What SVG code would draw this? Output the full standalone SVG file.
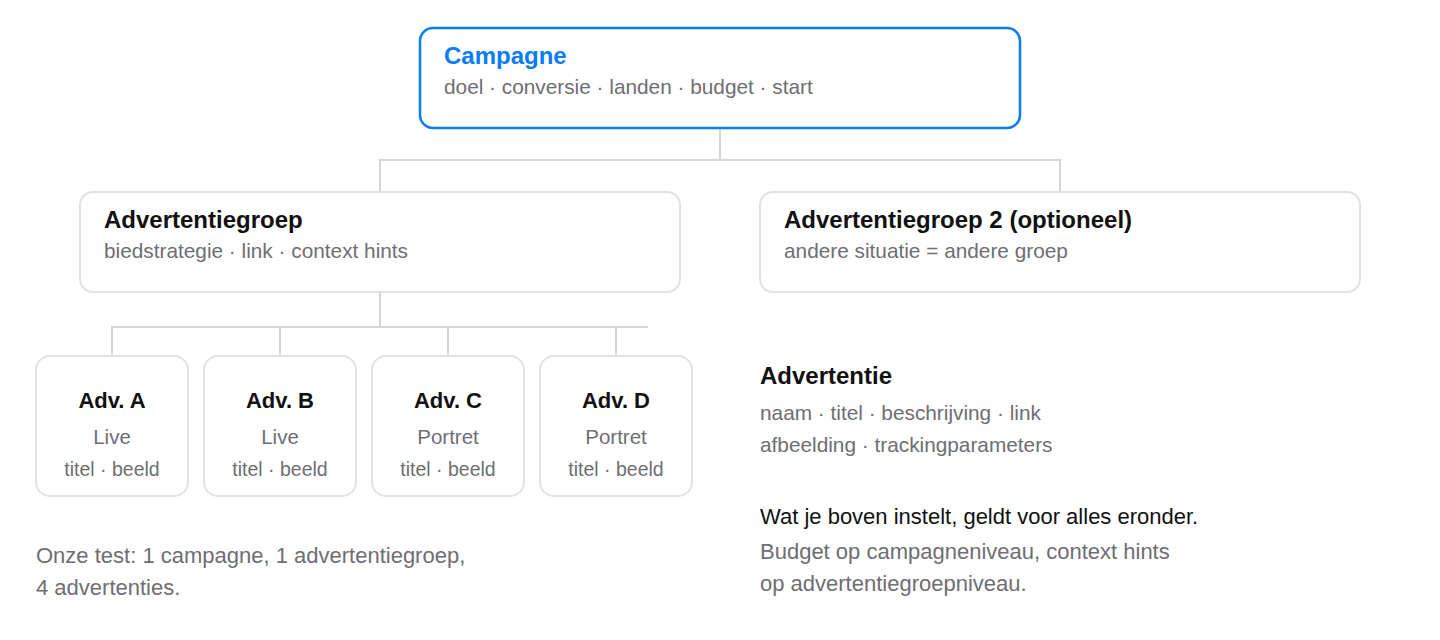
<svg xmlns="http://www.w3.org/2000/svg" width="1440" height="640" viewBox="0 0 1440 640">
<style>
text{font-family:"Liberation Sans",Arial,Helvetica,sans-serif}
.box{fill:#fff;stroke:#e2e2e5;stroke-width:2}
.main{fill:#fff;stroke:#0a7cf5;stroke-width:2.5}
.conn{fill:none;stroke:#d6d6da;stroke-width:2}
.t{font-size:24px;font-weight:bold;fill:#111}
.tb{font-size:24px;font-weight:bold;fill:#0a7cf5}
.s{font-size:20.8px;fill:#6e6e73}
.n{font-size:22px;fill:#6e6e73}
.at{font-size:22px;font-weight:bold;fill:#111;text-anchor:middle}
.al{font-size:20.5px;fill:#6e6e73;text-anchor:middle}
.ab{font-size:19.5px;fill:#6e6e73;text-anchor:middle}
.k{font-size:22px;fill:#111}
</style>
<rect width="1440" height="640" fill="#fff"/>
<g id="connectors">
<path class="conn" d="M720 128V160M380 192V160H1060V192"/>
<path class="conn" d="M380 292V327M112 356V327H648M280 327V356M448 327V356M616 327V356"/>
</g>
<g id="campagne">
<rect class="main" x="420" y="28" width="600" height="100" rx="13"/>
<text class="tb" x="444" y="64">Campagne</text>
<text class="s" x="444" y="94">doel · conversie · landen · budget · start</text>
</g>
<g id="groep1">
<rect class="box" x="80" y="192" width="600" height="100" rx="13"/>
<text class="t" x="104" y="228">Advertentiegroep</text>
<text class="s" x="104" y="258">biedstrategie · link · context hints</text>
</g>
<g id="groep2">
<rect class="box" x="760" y="192" width="600" height="100" rx="13"/>
<text class="t" x="784" y="228">Advertentiegroep 2 (optioneel)</text>
<text class="s" x="784" y="258">andere situatie = andere groep</text>
</g>
<g id="adv-a">
<rect class="box" x="36" y="356" width="152" height="140" rx="14"/>
<text class="at" x="112" y="408">Adv. A</text>
<text class="al" x="112" y="444">Live</text>
<text class="ab" x="112" y="476">titel · beeld</text>
</g>
<g id="adv-b">
<rect class="box" x="204" y="356" width="152" height="140" rx="14"/>
<text class="at" x="280" y="408">Adv. B</text>
<text class="al" x="280" y="444">Live</text>
<text class="ab" x="280" y="476">titel · beeld</text>
</g>
<g id="adv-c">
<rect class="box" x="372" y="356" width="152" height="140" rx="14"/>
<text class="at" x="448" y="408">Adv. C</text>
<text class="al" x="448" y="444">Portret</text>
<text class="ab" x="448" y="476">titel · beeld</text>
</g>
<g id="adv-d">
<rect class="box" x="540" y="356" width="152" height="140" rx="14"/>
<text class="at" x="616" y="408">Adv. D</text>
<text class="al" x="616" y="444">Portret</text>
<text class="ab" x="616" y="476">titel · beeld</text>
</g>
<g id="legenda">
<text class="t" x="760" y="384">Advertentie</text>
<text class="s" x="760" y="420">naam · titel · beschrijving · link</text>
<text class="s" x="760" y="452">afbeelding · trackingparameters</text>
<text class="k" x="760" y="524">Wat je boven instelt, geldt voor alles eronder.</text>
<text class="n" x="760" y="559">Budget op campagneniveau, context hints</text>
<text class="n" x="760" y="591">op advertentiegroepniveau.</text>
</g>
<g id="notitie">
<text class="n" x="36" y="563">Onze test: 1 campagne, 1 advertentiegroep,</text>
<text class="n" x="36" y="595">4 advertenties.</text>
</g>
</svg>
